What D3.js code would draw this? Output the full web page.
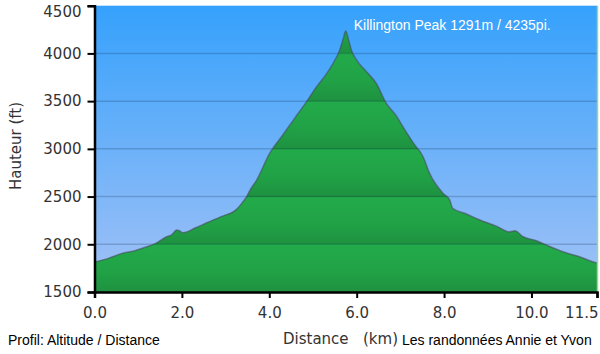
<!DOCTYPE html>
<html>
<head>
	<meta charset="utf-8">
	<title></title>
	<style>
		body { margin: 0; background: #fff; }
		text { font-family: "DejaVu Sans", Verdana, sans-serif; }
	</style>
</head>
<body>
	<svg id="container" width="600" height="354"></svg>
</body>
<script src="https://cdn.jsdelivr.net/npm/d3@7"></script>
<script>
	// profile: distance in km, altitude in ft
	let distKm = [0, 0.3, 0.66, 0.9, 1.11, 1.4, 1.65, 1.77, 1.88, 1.95, 2.03, 2.3, 2.57, 2.9, 3.25, 3.37, 3.48, 3.56, 3.71,
		4.01, 4.3, 4.55, 4.85, 5.08, 5.3, 5.46, 5.61, 5.69, 5.75, 5.81, 5.88, 6.0, 6.2, 6.45, 6.68, 6.9, 7.06, 7.3, 7.52,
		7.67, 7.98, 8.13, 8.2, 8.5, 8.82, 9.2, 9.5, 9.62, 9.81, 10.1, 10.34, 10.72, 11.1, 11.48, 11.5]
	let altFt = [1814, 1850, 1908, 1930, 1961, 2010, 2079, 2100, 2149, 2140, 2121, 2170, 2226, 2290, 2366, 2429, 2498, 2568, 2673,
		2955, 3140, 3301, 3493, 3650, 3780, 3895, 4034, 4150, 4235, 4150, 4034, 3929, 3820, 3685, 3476, 3350, 3231, 3060, 2917,
		2743, 2533, 2463, 2376, 2320, 2254, 2190, 2131, 2142, 2079, 2040, 1992, 1922, 1870, 1807, 1805]
	let xTicks = [0, 2, 4, 6, 8, 10, 11.5]
	let yTicks = [1500, 2000, 2500, 3000, 3500, 4000, 4500]
	let peakLabel = "Killington Peak 1291m / 4235pi."

	let svg = d3.select("#container")
	let x = d3.scaleLinear().domain([0, 11.5]).range([94.5, 597])
	let y = d3.scaleLinear().domain([1500, 4500]).range([292, 5.7])

	let defs = svg.append("defs")
	let sky = defs.append("linearGradient").attr("id", "sky")
		.attr("gradientUnits", "userSpaceOnUse")
		.attr("x1", 0).attr("x2", 0).attr("y1", y(4500)).attr("y2", y(1500))
	sky.append("stop").attr("offset", 0).attr("stop-color", "#35a1fc")
	sky.append("stop").attr("offset", 1).attr("stop-color", "#a4c2f6")

	// each 500 ft band goes from light (top) to a bit darker (bottom)
	let grass = defs.append("linearGradient").attr("id", "grass")
		.attr("gradientUnits", "userSpaceOnUse").attr("spreadMethod", "repeat")
		.attr("x1", 0).attr("x2", 0).attr("y1", y(4500)).attr("y2", y(4000))
	grass.append("stop").attr("offset", 0).attr("stop-color", "#22ab4a")
	grass.append("stop").attr("offset", 0.6).attr("stop-color", "#21a146")
	grass.append("stop").attr("offset", 1).attr("stop-color", "#1e9140")

	let profile = distKm.map((d, i) => ({ km: d, ft: altFt[i] }))

	// plot background
	svg.append("rect")
		.attr("x", x(0)).attr("y", y(4500))
		.attr("width", x(11.5) - x(0)).attr("height", y(1500) - y(4500))
		.style("fill", "url(#sky)")

	let area = d3.area().x(d => x(d.km)).y0(y(1500)).y1(d => y(d.ft)).curve(d3.curveMonotoneX)
	svg.append("path").datum(profile).attr("d", area).style("fill", "url(#grass)")

	// grid lines
	svg.append("g").selectAll("line")
		.data(yTicks.filter(d => d > 1500 && d < 4500))
		.enter().append("line")
		.attr("x1", x(0)).attr("x2", x(11.5))
		.attr("y1", d => y(d)).attr("y2", d => y(d))
		.style("stroke", "rgba(0,30,60,0.2)").style("stroke-width", 1.5)

	let line = d3.line().x(d => x(d.km)).y(d => y(d.ft)).curve(d3.curveMonotoneX)
	svg.append("path").datum(profile).attr("d", line)
		.style("fill", "none").style("stroke", "rgba(70,70,90,0.55)").style("stroke-width", 1.5)

	// light green right edge
	svg.append("line")
		.attr("x1", x(11.5) + 0.5).attr("x2", x(11.5) + 0.5).attr("y1", y(4500)).attr("y2", y(1500))
		.style("stroke", "#9ad89a").style("stroke-width", 1.5)

	// axes
	let yAxis = d3.axisLeft(y).tickValues(yTicks).tickSize(7).tickPadding(6).tickFormat(d3.format("d"))
	let gy = svg.append("g").attr("transform", "translate(" + x(0) + ",0)").call(yAxis)
	// top label is pushed down so it stays inside the picture
	gy.selectAll(".tick text").filter(d => d === 4500).attr("y", 6)
	let xAxis = d3.axisBottom(x).tickValues(xTicks).tickSize(6).tickPadding(9).tickFormat(d3.format(".1f"))
	let gx = svg.append("g").attr("transform", "translate(0," + y(1500) + ")").call(xAxis)
	// last label sits flush with the right edge
	gx.selectAll(".tick text").filter(d => d === 11.5).attr("text-anchor", "end").attr("x", 1)

	svg.selectAll(".domain").style("stroke", "#000").style("stroke-width", 2.5)
	svg.selectAll(".tick line").style("stroke", "#000").style("stroke-width", 2)
	svg.selectAll(".tick text").style("font-size", "15px").style("fill", "#333")
		.style("font-family", "'DejaVu Sans', Verdana, sans-serif")

	// texts
	svg.append("text").text("Hauteur (ft)")
		.attr("transform", "translate(21,146) rotate(-90)")
		.attr("text-anchor", "middle").style("font-size", "15px").style("fill", "#333")

	svg.append("text").text("Distance")
		.attr("x", 283).attr("y", 344).style("font-size", "15px").style("fill", "#333")
	svg.append("text").text("(km)")
		.attr("x", 363).attr("y", 344).style("font-size", "15px").style("fill", "#333")

	svg.append("text").text("Les randonnées Annie et Yvon")
		.attr("x", 402).attr("y", 345)
		.style("font-family", "'Liberation Sans', Arial, sans-serif").style("font-size", "14px").style("fill", "#000")

	svg.append("text").text("Profil: Altitude / Distance")
		.attr("x", 8).attr("y", 345)
		.style("font-family", "'Liberation Sans', Arial, sans-serif").style("font-size", "14px").style("fill", "#000")

	let peak = profile[d3.maxIndex(profile, d => d.ft)]
	svg.append("text").text(peakLabel)
		.attr("x", x(peak.km) + 8).attr("y", 30)
		.style("font-family", "'Liberation Sans', Arial, sans-serif").style("font-size", "14px").style("fill", "#fff")
</script>
</html>
